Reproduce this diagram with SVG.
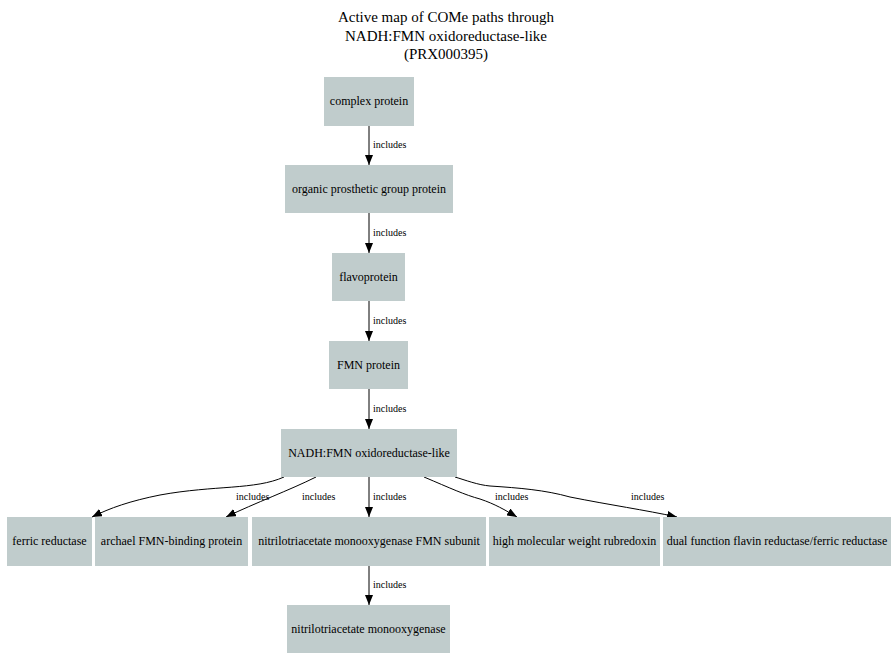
<svg xmlns="http://www.w3.org/2000/svg" width="894" height="670" viewBox="0 0 894 670">
  <style>
    .node rect { fill: #c0cccc; stroke: none; }
    .node text { font-family: "Liberation Serif", "Times New Roman", serif; font-size: 12px; fill: #000; text-anchor: middle; }
    .title { font-family: "Liberation Serif", "Times New Roman", serif; font-size: 15px; fill: #000; text-anchor: middle; }
    .edges path { fill: none; stroke: #000; stroke-width: 1; }
    .edges text { font-family: "Liberation Serif", "Times New Roman", serif; font-size: 10px; fill: #000; }
  </style>
  <defs>
    <marker id="arrow" markerWidth="10" markerHeight="8" refX="10" refY="4" orient="auto" markerUnits="userSpaceOnUse">
      <path d="M0,0 L10,4 L0,8 Z" fill="#000"/>
    </marker>
  </defs>
  <rect width="894" height="670" fill="#fff"/>

  <g id="title">
    <text class="title" x="446" y="22">Active map of COMe paths through</text>
    <text class="title" x="446" y="41">NADH:FMN oxidoreductase-like</text>
    <text class="title" x="446" y="59">(PRX000395)</text>
  </g>

  <g id="edges" class="edges">
    <path d="M369,126 L369,165" marker-end="url(#arrow)"/>
    <text x="373" y="148">includes</text>
    <path d="M369,213 L369,253" marker-end="url(#arrow)"/>
    <text x="373" y="236">includes</text>
    <path d="M369,301 L369,341" marker-end="url(#arrow)"/>
    <text x="373" y="324">includes</text>
    <path d="M369,389 L369,429" marker-end="url(#arrow)"/>
    <text x="373" y="412">includes</text>

    <path d="M284,477 C255,490 215,485 160,495 C130,501 110,508 92,517" marker-end="url(#arrow)"/>
    <text x="236" y="500">includes</text>
    <path d="M316,477 C290,490 255,503 226,517" marker-end="url(#arrow)"/>
    <text x="302" y="500">includes</text>
    <path d="M369,477 L369,517" marker-end="url(#arrow)"/>
    <text x="373" y="500">includes</text>
    <path d="M424,477 C450,488 465,495 480,499 C495,504 505,510 517,517" marker-end="url(#arrow)"/>
    <text x="495" y="500">includes</text>
    <path d="M455,477 C465,480 478,485 490,486 C520,488 545,490 570,497 C610,505 645,510 677,517" marker-end="url(#arrow)"/>
    <text x="631" y="500">includes</text>

    <path d="M369,566 L369,605" marker-end="url(#arrow)"/>
    <text x="373" y="588">includes</text>
  </g>

  <g id="complex_protein" class="node">
    <rect x="324" y="77" width="90" height="49"/>
    <text x="369" y="104.5">complex protein</text>
  </g>
  <g id="organic_prosthetic_group_protein" class="node">
    <rect x="285" y="165" width="168" height="48"/>
    <text x="369" y="192.5">organic prosthetic group protein</text>
  </g>
  <g id="flavoprotein" class="node">
    <rect x="332" y="253" width="73" height="48"/>
    <text x="368.5" y="280.5">flavoprotein</text>
  </g>
  <g id="fmn_protein" class="node">
    <rect x="329" y="341" width="79" height="48"/>
    <text x="368.5" y="368.5">FMN protein</text>
  </g>
  <g id="nadh_fmn_oxidoreductase_like" class="node">
    <rect x="281" y="429" width="176" height="48"/>
    <text x="369" y="456.5">NADH:FMN oxidoreductase-like</text>
  </g>
  <g id="ferric_reductase" class="node">
    <rect x="7" y="517" width="85" height="49"/>
    <text x="49.5" y="544.5">ferric reductase</text>
  </g>
  <g id="archael_fmn_binding_protein" class="node">
    <rect x="95" y="517" width="153" height="49"/>
    <text x="171.5" y="544.5">archael FMN-binding protein</text>
  </g>
  <g id="nitrilotriacetate_monooxygenase_fmn_subunit" class="node">
    <rect x="252" y="517" width="234" height="49"/>
    <text x="369" y="544.5">nitrilotriacetate monooxygenase FMN subunit</text>
  </g>
  <g id="high_molecular_weight_rubredoxin" class="node">
    <rect x="489" y="517" width="171" height="49"/>
    <text x="574.5" y="544.5">high molecular weight rubredoxin</text>
  </g>
  <g id="dual_function_flavin_reductase" class="node">
    <rect x="663" y="517" width="228" height="49"/>
    <text x="777" y="544.5">dual function flavin reductase/ferric reductase</text>
  </g>
  <g id="nitrilotriacetate_monooxygenase" class="node">
    <rect x="287" y="605" width="163" height="48"/>
    <text x="368.5" y="632.5">nitrilotriacetate monooxygenase</text>
  </g>
</svg>
